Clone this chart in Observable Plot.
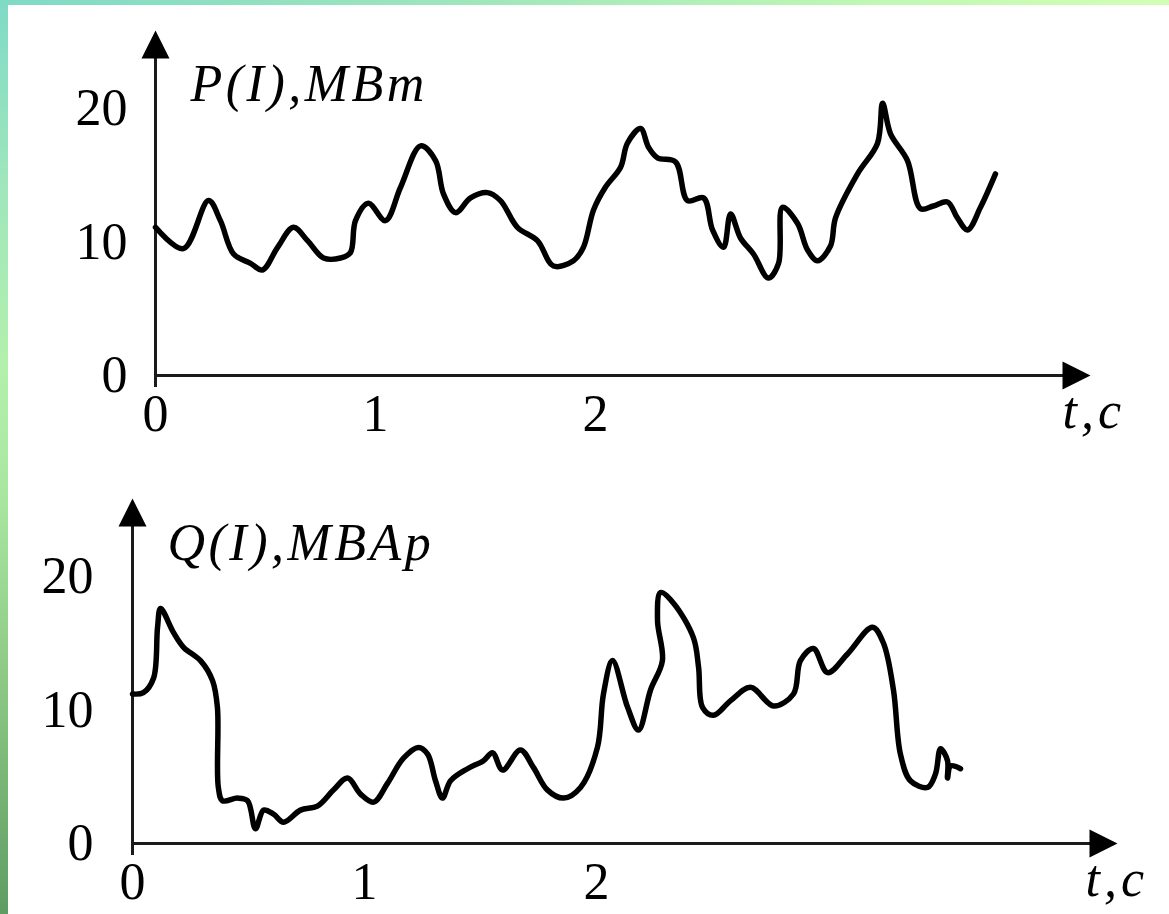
<!DOCTYPE html>
<html>
<head>
<meta charset="utf-8">
<script src="https://cdn.jsdelivr.net/npm/d3@7"></script>
<script src="https://cdn.jsdelivr.net/npm/@observablehq/plot@0.6"></script>
<style>
  html, body { margin: 0; padding: 0; }
  body { width: 1169px; height: 914px; position: relative; overflow: hidden; background: #ffffff; }
  #c1, #c2 { position: absolute; left: 0; }
  #c1 { top: 0; }
  #c2 { top: 460px; }
  #leftbar { position: absolute; left: 0; top: 0; width: 8px; height: 914px; z-index: 5;
    background: linear-gradient(to bottom, #7fdac6 0%, #9fe6bc 20%, #b3f0ac 40%, #a8e6a0 55%, #8cc884 75%, #5f9c62 100%); }
  #topbar { position: absolute; left: 0; top: 0; width: 1169px; height: 5px; z-index: 6;
    background: linear-gradient(to right, #7fdac6 0%, #9fe6bc 40%, #c0f8b4 75%, #d2ffb4 100%); }
</style>
</head>
<body>
<div id="c1"></div>
<div id="c2"></div>
<div id="leftbar"></div>
<div id="topbar"></div>
<script>
// ---- Data: top panel P(I), MW vs t, s ----
const topT = [0,0.127,0.241,0.295,0.355,0.432,0.486,0.555,0.627,0.691,0.764,0.841,0.886,0.909,0.968,1.045,1.114,1.205,1.273,1.309,1.364,1.432,1.509,1.568,1.645,1.736,1.809,1.9,1.945,1.991,2.045,2.114,2.145,2.205,2.241,2.282,2.364,2.418,2.491,2.532,2.582,2.614,2.659,2.718,2.786,2.832,2.85,2.918,2.964,3.009,3.068,3.091,3.191,3.282,3.305,3.341,3.418,3.477,3.536,3.6,3.645,3.691,3.75,3.818];
const topP = [11.1,9.5,13.1,11.6,9.1,8.4,7.9,9.6,11.1,10.1,8.8,8.8,9.2,11.6,12.9,11.6,14.1,17.2,16.1,13.6,12.2,13.3,13.7,13.1,11.1,10.1,8.2,8.6,9.6,12.4,14.1,15.6,17.4,18.5,17.1,16.3,16.0,13.1,13.3,10.9,9.6,12.1,10.3,9.1,7.3,8.4,12.6,11.4,9.4,8.6,9.7,11.8,15.1,17.4,20.4,18.1,16.1,12.5,12.7,13.0,11.8,10.9,12.6,15.1];

// ---- Data: bottom panel Q(I), Mvar vs t, s ----
const botT = [0,0.047,0.091,0.108,0.121,0.177,0.22,0.293,0.345,0.366,0.37,0.388,0.453,0.496,0.53,0.565,0.608,0.651,0.724,0.797,0.866,0.927,0.983,1.039,1.099,1.168,1.233,1.272,1.306,1.336,1.371,1.444,1.513,1.552,1.595,1.672,1.728,1.789,1.858,1.931,2.004,2.03,2.069,2.134,2.181,2.233,2.284,2.263,2.276,2.332,2.418,2.44,2.457,2.504,2.578,2.664,2.763,2.849,2.879,2.935,2.996,3.082,3.19,3.237,3.28,3.31,3.353,3.427,3.461,3.483,3.513,3.513,3.526,3.569];
const botQ = [11.2,11.3,12.4,16.2,17.6,15.8,14.7,13.7,12.2,10.2,4.2,3.2,3.4,3.2,1.1,2.5,2.2,1.6,2.5,2.8,4.0,4.9,3.7,3.1,4.5,6.4,7.2,6.7,4.7,3.4,4.7,5.6,6.2,6.8,5.5,7.0,5.7,4.0,3.4,4.2,7.2,11.2,13.7,10.2,8.5,11.5,13.7,16.7,18.8,18.0,15.4,13.2,10.2,9.6,10.7,11.7,10.3,11.2,13.7,14.6,12.8,14.2,16.2,15.0,11.5,6.7,4.7,4.2,5.2,7.1,6.2,4.9,5.8,5.6];

// ---- Tick labels ----
const yTicks = [0, 10, 20];
const xTicks = [0, 1, 2];
const topTitle = "P(I),MBm";
const botTitle = "Q(I),MBAp";
const xTitle = "t,c";

const FONT = "'Liberation Serif', 'Times New Roman', serif";

// filled arrow head, tip at the anchor point, pointing up
const arrowHead = {
  draw(context, size) {
    const r = Math.sqrt(size / Math.PI);
    context.moveTo(0, 0);
    context.lineTo(r / 2, r);
    context.lineTo(-r / 2, r);
    context.closePath();
  }
};

function panel(cfg) {
  const data = cfg.t.map((t, i) => ({t, v: cfg.v[i]}));
  const pxPerV = 13.35;
  const xTip = (cfg.xTipPx - cfg.ox) / cfg.pxPerT;
  const yTip = (cfg.oy - cfg.yTipPx) / pxPerV;
  const overshoot = 12 / pxPerV;
  const svg = Plot.plot({
    width: 1169,
    height: cfg.height,
    style: {background: "transparent", overflow: "visible"},
    x: {type: "linear", domain: [0, 1], range: [cfg.ox, cfg.ox + cfg.pxPerT], axis: null},
    y: {type: "linear", domain: [0, 10], range: [cfg.oy, cfg.oy - 10 * pxPerV], axis: null},
    marks: [
      Plot.ruleX([0], {y1: yTip, y2: -overshoot, insetTop: 14, stroke: "#1a1a1a", strokeWidth: 3}),
      Plot.ruleY([0], {x1: 0, x2: xTip, insetRight: 14, stroke: "#1a1a1a", strokeWidth: 3}),
      Plot.dot([0], {x: 0, y: yTip, symbol: arrowHead, r: 28, fill: "#000", stroke: null}),
      Plot.dot([0], {x: xTip, y: 0, symbol: arrowHead, r: 28, rotate: 90, fill: "#000", stroke: null}),
      Plot.line(data, {x: "t", y: "v", curve: "catmull-rom", stroke: "#000", strokeWidth: 5.5,
        strokeLinejoin: "round", strokeLinecap: "round"}),
      Plot.text(yTicks, {x: 0, y: d => d, text: d => String(d), textAnchor: "end", dx: cfg.yLabelDx,
        fontSize: 52, fontFamily: FONT, fill: "#000"}),
      Plot.text(xTicks, {x: d => d, y: 0, text: d => String(d), dy: 39,
        fontSize: 52, fontFamily: FONT, fill: "#000"}),
      Plot.text([cfg.title], {x: 0, y: yTip, text: d => d, textAnchor: "start", dx: 35, dy: cfg.titleDy,
        fontSize: 52, fontStyle: "italic", fontFamily: FONT, fill: "#000"}),
      Plot.text([xTitle], {x: xTip, y: 0, text: d => d, textAnchor: "start", dx: cfg.xTitleDx, dy: 36,
        fontSize: 52, fontStyle: "italic", fontFamily: FONT, fill: "#000"})
    ]
  });
  // letter spacing on the italic axis names, as in the typeset original
  d3.select(svg).selectAll("text")
    .filter(function() { return this.textContent === cfg.title; })
    .attr("letter-spacing", cfg.titleSpacing);
  d3.select(svg).selectAll("text")
    .filter(function() { return this.textContent === xTitle; })
    .attr("letter-spacing", 4);
  return svg;
}

const p1 = panel({t: topT, v: topP, height: 460, ox: 155, oy: 375, pxPerT: 220,
  xTipPx: 1090, yTipPx: 30, yLabelDx: -28, titleDy: 54, xTitleDx: -28, title: topTitle, titleSpacing: 3.5});
const p2 = panel({t: botT, v: botQ, height: 454, ox: 132, oy: 383, pxPerT: 232,
  xTipPx: 1117, yTipPx: 38, yLabelDx: -39, titleDy: 45, xTitleDx: -32, title: botTitle, titleSpacing: 3.5});
document.getElementById("c1").appendChild(p1);
document.getElementById("c2").appendChild(p2);
</script>
</body>
</html>
